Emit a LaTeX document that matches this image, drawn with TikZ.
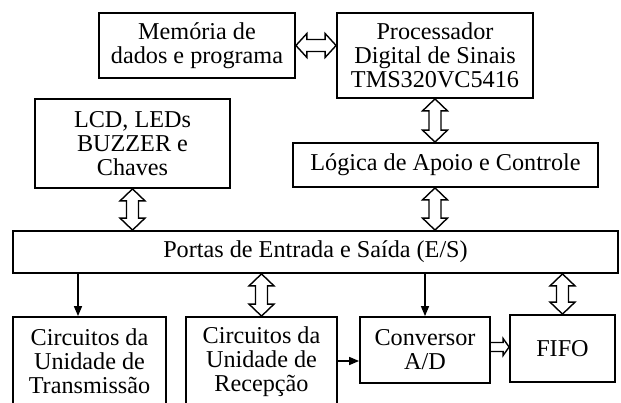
\documentclass[tikz,border=0pt]{standalone}
\usepackage{fontspec}
\setmainfont{Liberation Serif}
\usetikzlibrary{calc,arrows.meta}
\begin{document}
\begin{tikzpicture}[x=1pt,y=1pt,
  blk/.style={draw,line width=1.8pt,inner sep=0pt,align=center,
    font=\fontsize{24.2}{24}\selectfont},
  vdbl/.style={line width=1.4pt,to path={let \p1=(\tikztostart),\p2=(\tikztotarget) in
    (\x1-6pt,\y1-12pt) -- (\x1-12.5pt,\y1-12pt) -- (\x1,\y1) -- (\x1+12.5pt,\y1-12pt) -- (\x1+6pt,\y1-12pt)
    -- (\x1+6pt,\y2+12pt) -- (\x1+12.5pt,\y2+12pt) -- (\x1,\y2) -- (\x1-12.5pt,\y2+12pt) -- (\x1-6pt,\y2+12pt) -- cycle}},
  hdbl/.style={line width=1.4pt,to path={let \p1=(\tikztostart),\p2=(\tikztotarget) in
    (\x1+11pt,\y1+6pt) -- (\x1+11pt,\y1+12pt) -- (\x1,\y1) -- (\x1+11pt,\y1-12pt) -- (\x1+11pt,\y1-6pt)
    -- (\x2-11pt,\y1-6pt) -- (\x2-11pt,\y1-12pt) -- (\x2,\y1) -- (\x2-11pt,\y1+12pt) -- (\x2-11pt,\y1+6pt) -- cycle}},
  hsgl/.style={line width=1.4pt,to path={let \p1=(\tikztostart),\p2=(\tikztotarget) in
    (\x1,\y1+4.5pt) -- (\x2-6pt,\y1+4.5pt) -- (\x2-6pt,\y1+8.5pt) -- (\x2,\y1) -- (\x2-6pt,\y1-8.5pt) -- (\x2-6pt,\y1-4.5pt) -- (\x1,\y1-4.5pt)}},
  sarr/.style={line width=1.4pt,-{Triangle[length=10pt,width=8pt]}}
]
\useasboundingbox (0,0) rectangle (621,402);
\fill[white] (0,0) rectangle (621,402);
\clip (0,0) rectangle (621,402);

\node[blk,minimum width=196,minimum height=65] (mem) at (197,356.5) {Memória de\\dados e programa};
\node[blk,minimum width=196,minimum height=85] (proc) at (435,346.5) {Processador\\Digital de Sinais\\TMS320VC5416};
\node[blk,minimum width=195,minimum height=89] (lcd) at (132.5,258.5) {LCD, LEDs\\BUZZER e\\Chaves};
\node[blk,minimum width=305,minimum height=44] (log) at (445.5,237) {Lógica de Apoio e Controle};
\node[blk,minimum width=605,minimum height=42] (port) at (315.5,150) {Portas de Entrada e Saída (E/S)};
\node[blk,minimum width=153,minimum height=89] (trans) at (89.5,40.5) {Circuitos da\\Unidade de\\Transmissão};
\node[blk,minimum width=151,minimum height=89] (recep) at (261.5,40.5) {Circuitos da\\Unidade de\\Recepção};
\node[blk,minimum width=130,minimum height=66] (conv) at (425,52) {Conversor\\A/D};
\node[blk,minimum width=105,minimum height=67] (fifo) at (562.5,53.5) {FIFO};

\draw[hdbl] (mem.east) to (proc.west |- mem.east);
\draw[vdbl] (proc.south) to (log.north -| proc.south);
\draw[vdbl] (log.south -| proc.south) to (port.north -| proc.south);
\draw[vdbl] (lcd.south) to (port.north -| lcd.south);
\draw[sarr] ([xshift=-11.5pt]trans.north |- port.south) -- ([xshift=-11.5pt]trans.north);
\draw[vdbl] (port.south -| recep.north) to (recep.north);
\draw[sarr] (port.south -| conv.north) -- (conv.north);
\draw[vdbl] (port.south -| fifo.north) to (fifo.north);
\draw[sarr] (recep.east |- 0,41) -- (conv.west |- 0,41);
\draw[hsgl] (conv.east |- 0,55) to (fifo.west |- 0,55);
\end{tikzpicture}
\end{document}
